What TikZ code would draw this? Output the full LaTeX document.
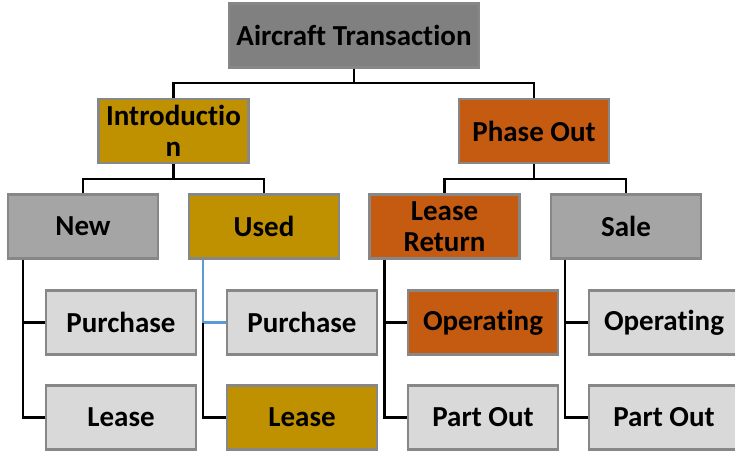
\documentclass[tikz,border=0pt]{standalone}
\usepackage{fontspec}
\setmainfont{Carlito}[Ligatures=NoCommon]
\usetikzlibrary{positioning}

\definecolor{darkfill}{HTML}{808080}
\definecolor{midfill}{HTML}{A5A5A5}
\definecolor{lightfill}{HTML}{D9D9D9}
\definecolor{goldfill}{HTML}{BF9000}
\definecolor{rustfill}{HTML}{C55A11}
\definecolor{edgegray}{HTML}{878787}
\definecolor{linkblue}{HTML}{5B9BD5}

\tikzset{
	box/.style={draw=edgegray, line width=2.2pt, minimum width=150pt, minimum height=64pt,
		inner sep=0pt, align=center, font=\bfseries\fontsize{29}{31}\selectfont},
	link/.style={line width=2.2pt},
}

\begin{document}
\begin{tikzpicture}[x=1pt, y=-1pt]
	\useasboundingbox (0, 0) rectangle (735, 453);
	
	% top
	\node[box, fill=darkfill, minimum width=250pt] (root) at (354, 35.5){Aircraft Transaction};
	\node[box, fill=goldfill] (intro) at (173.5, 131){Introductio\\n};
	\node[box, fill=rustfill] (phase) at (534, 131){Phase Out};
	
	% middle row
	\node[box, fill=midfill] (new) at (83, 226.5){New};
	\node[box, fill=goldfill] (used) at (264, 226.5){Used};
	\node[box, fill=rustfill] (lret) at (444.5, 226.5){Lease\\Return};
	\node[box, fill=midfill] (sale) at (626, 226.5){Sale};
	
	% leaves
	\node[box, fill=lightfill] (newbuy) at (121, 322.5){Purchase};
	\node[box, fill=lightfill] (newlease) at (121, 417.5){Lease};
	\node[box, fill=lightfill] (usedbuy) at (302, 322.5){Purchase};
	\node[box, fill=goldfill] (usedlease) at (302, 417.5){Lease};
	\node[box, fill=rustfill] (lretop) at (483, 322.5){Operating};
	\node[box, fill=lightfill] (lretpart) at (483, 417.5){Part Out};
	\node[box, fill=lightfill] (saleop) at (664, 322.5){Operating};
	\node[box, fill=lightfill] (salepart) at (664, 417.5){Part Out};
	
	\draw[link] (root.south) -- ++(0, 14) -| (intro.north);
	\draw[link] (root.south) -- ++(0, 14) -| (phase.north);
	\draw[link] (intro.south) -- ++(0, 15) -| (new.north);
	\draw[link] (intro.south) -- ++(0, 15) -| (used.north);
	\draw[link] (phase.south) -- ++(0, 15) -| (lret.north);
	\draw[link] (phase.south) -- ++(0, 15) -| (sale.north);
	
	\draw[link] ([xshift=16pt]new.south west) |- (newbuy.west);
	\draw[link] ([xshift=16pt]new.south west) |- (newlease.west);
	\draw[link, linkblue] ([xshift=15pt]used.south west) |- (usedbuy.west);
	\draw[link] ([xshift=15pt]used.south west |- usedbuy.west) |- (usedlease.west);
	\draw[link] ([xshift=16pt]lret.south west) |- (lretop.west);
	\draw[link] ([xshift=16pt]lret.south west) |- (lretpart.west);
	\draw[link] ([xshift=15pt]sale.south west) |- (saleop.west);
	\draw[link] ([xshift=15pt]sale.south west) |- (salepart.west);
\end{tikzpicture}
\end{document}
